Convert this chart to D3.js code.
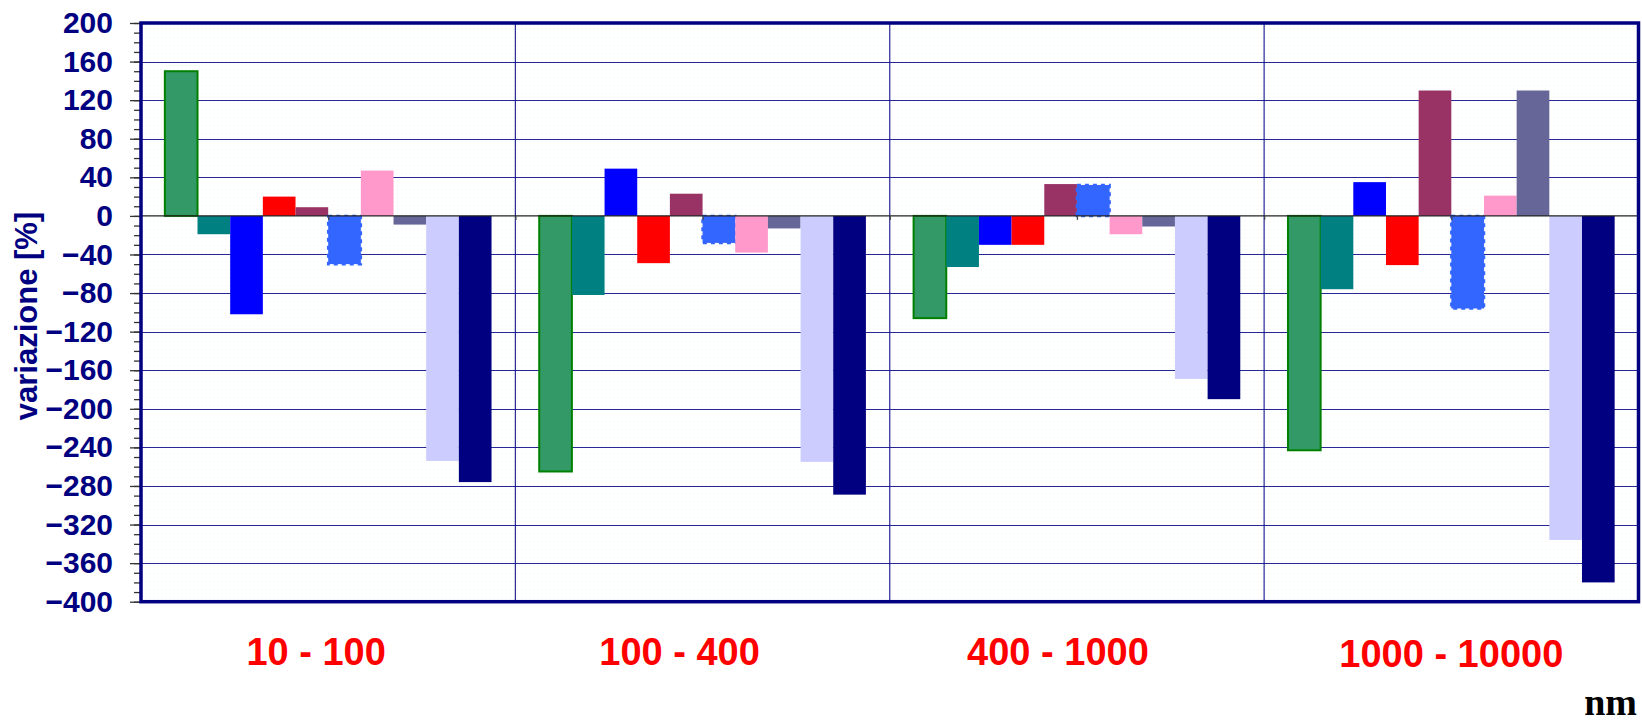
<!DOCTYPE html>
<html>
<head>
<meta charset="utf-8">
<script src="https://cdn.jsdelivr.net/npm/d3@7"></script>
<style>
  html, body { margin: 0; padding: 0; background: #fff; }
  svg { display: block; }
</style>
</head>
<body>
<svg id="chart" width="1642" height="724"></svg>
<script>
// Size classes (nm)
const categories = ["10 - 100", "100 - 400", "400 - 1000", "1000 - 10000"];

// Percentage change per series, one value per size class
const serie1  = [150, -265, -106, -243];
const serie2  = [-19,  -82,  -53,  -76];
const serie3  = [-102,  49,  -30,   35];
const serie4  = [20,   -49,  -30,  -51];
const serie5  = [9,     23,   33,  130];
const serie6  = [-50,  -28,   32,  -96];
const serie7  = [47,   -38,  -19,   21];
const serie8  = [-9,   -13,  -11,  130];
const serie9  = [-254, -255, -169, -336];
const serie10 = [-276, -289, -190, -380];

const seriesValues = [serie1, serie2, serie3, serie4, serie5, serie6, serie7, serie8, serie9, serie10];

// Y tick labels
const yTicks = [200, 160, 120, 80, 40, 0, -40, -80, -120, -160, -200, -240, -280, -320, -360, -400];

// ---- styling / layout ----
const seriesStyle = [
  { fill: "#339966", stroke: "#008000", sw: 2 },
  { fill: "#008080" },
  { fill: "#0000FF" },
  { fill: "#FF0000" },
  { fill: "#993366" },
  { fill: "#3366FF", stroke: "#3366FF", sw: 2.5, dash: "4,4" },
  { fill: "#FF99CC" },
  { fill: "#666699" },
  { fill: "#CCCCFF" },
  { fill: "#000080" }
];
const navy = "#000080";
const plot = { left: 141, right: 1638.5, top: 23, bottom: 601.7 };
const labelShift = [-12, -23, -19, 0];

const svg = d3.select("#chart");

// faint dotted plot background
const defs = svg.append("defs");
const pat = defs.append("pattern")
  .attr("id", "dots").attr("width", 4).attr("height", 4)
  .attr("patternUnits", "userSpaceOnUse");
pat.append("rect").attr("width", 4).attr("height", 4).attr("fill", "#ffffff");
pat.append("rect").attr("x", 1).attr("y", 1).attr("width", 1).attr("height", 1).attr("fill", "#ecf9f9");

const x0 = d3.scaleBand().domain(categories).range([plot.left, plot.right]).padding(0);
const seriesIdx = d3.range(seriesValues.length);
const x1 = d3.scaleBand().domain(seriesIdx).range([0, x0.bandwidth()]).paddingInner(0).paddingOuter(0.73);
const y = d3.scaleLinear().domain([-400, 200]).range([plot.bottom, plot.top]);

svg.append("rect")
  .attr("x", plot.left).attr("y", plot.top)
  .attr("width", plot.right - plot.left).attr("height", plot.bottom - plot.top)
  .attr("fill", "url(#dots)");

// horizontal gridlines
svg.append("g").selectAll("line")
  .data(yTicks.filter(t => t !== 200 && t !== -400 && t !== 0))
  .join("line")
  .attr("x1", plot.left).attr("x2", plot.right)
  .attr("y1", d => Math.round(y(d)) + 0.5).attr("y2", d => Math.round(y(d)) + 0.5)
  .attr("stroke", "#10108a").attr("stroke-width", 1.2).attr("stroke-opacity", 0.9);

// vertical separators between size classes
svg.append("g").selectAll("line")
  .data(categories.slice(1))
  .join("line")
  .attr("x1", d => x0(d)).attr("x2", d => x0(d))
  .attr("y1", plot.top).attr("y2", plot.bottom)
  .attr("stroke", "#10108a").attr("stroke-width", 1.2).attr("stroke-opacity", 0.9);

// bars
const groups = svg.append("g").selectAll("g")
  .data(categories)
  .join("g")
  .attr("transform", d => `translate(${x0(d)},0)`);

groups.selectAll("rect")
  .data((c, ci) => seriesIdx.map(si => ({ si, v: seriesValues[si][ci] })))
  .join("rect")
  .attr("x", d => x1(d.si))
  .attr("width", x1.bandwidth())
  .attr("y", d => y(Math.max(0, d.v)))
  .attr("height", d => Math.abs(y(d.v) - y(0)))
  .attr("fill", d => seriesStyle[d.si].fill)
  .attr("stroke", d => seriesStyle[d.si].stroke || "none")
  .attr("stroke-width", d => seriesStyle[d.si].sw || 0)
  .attr("stroke-dasharray", d => seriesStyle[d.si].dash || null);

// zero line with category-axis ticks
svg.append("line")
  .attr("x1", plot.left).attr("x2", plot.right)
  .attr("y1", y(0)).attr("y2", y(0))
  .attr("stroke", "#222").attr("stroke-width", 1.3);

const halfSteps = d3.range(1, categories.length * 2 + 1);
const xHalf = d3.scaleLinear().domain([0, categories.length * 2]).range([plot.left, plot.right]);
svg.append("g").attr("transform", `translate(0,${y(0)})`)
  .call(d3.axisBottom(xHalf).tickValues(halfSteps).tickSize(4).tickFormat(""))
  .call(g => g.select(".domain").remove())
  .call(g => g.selectAll("line").attr("stroke", "#444").attr("stroke-width", 1.3));

// y axis: minor ticks every 10, major every 40
svg.append("g").attr("transform", `translate(${plot.left},0)`)
  .call(d3.axisLeft(y).tickValues(d3.range(-400, 201, 10)).tickSize(7).tickFormat(""))
  .call(g => g.select(".domain").remove())
  .call(g => g.selectAll("line").attr("stroke", "#333").attr("stroke-width", 1.3));

svg.append("g").attr("transform", `translate(${plot.left},0)`)
  .call(d3.axisLeft(y).tickValues(yTicks).tickSize(11).tickPadding(17))
  .call(g => g.select(".domain").remove())
  .call(g => g.selectAll("line").attr("stroke", "#333").attr("stroke-width", 1.3))
  .call(g => g.selectAll("text")
    .attr("fill", navy)
    .attr("font-family", "Liberation Sans, Arial, sans-serif")
    .attr("font-weight", "bold")
    .attr("font-size", 30));

// plot frame
svg.append("rect")
  .attr("x", plot.left).attr("y", plot.top)
  .attr("width", plot.right - plot.left).attr("height", plot.bottom - plot.top)
  .attr("fill", "none").attr("stroke", navy).attr("stroke-width", 3.5);

// y axis title
svg.append("text")
  .attr("transform", `translate(37,316) rotate(-90)`)
  .attr("text-anchor", "middle")
  .attr("fill", navy)
  .attr("font-family", "Liberation Sans, Arial, sans-serif")
  .attr("font-weight", "bold")
  .attr("font-size", 31)
  .text("variazione [%]");

// size-class labels
svg.append("g").selectAll("text")
  .data(categories)
  .join("text")
  .attr("x", (d, i) => x0(d) + x0.bandwidth() / 2 + labelShift[i])
  .attr("y", (d, i) => i === categories.length - 1 ? 667 : 665)
  .attr("text-anchor", "middle")
  .attr("fill", "#FF0000")
  .attr("font-family", "Liberation Sans, Arial, sans-serif")
  .attr("font-weight", "bold")
  .attr("font-size", 38)
  .text(d => d);

// unit label
svg.append("text")
  .attr("x", 1637).attr("y", 715)
  .attr("text-anchor", "end")
  .attr("fill", "#000")
  .attr("font-family", "Liberation Serif, Times New Roman, serif")
  .attr("font-weight", "bold")
  .attr("font-size", 38)
  .text("nm");
</script>
</body>
</html>
